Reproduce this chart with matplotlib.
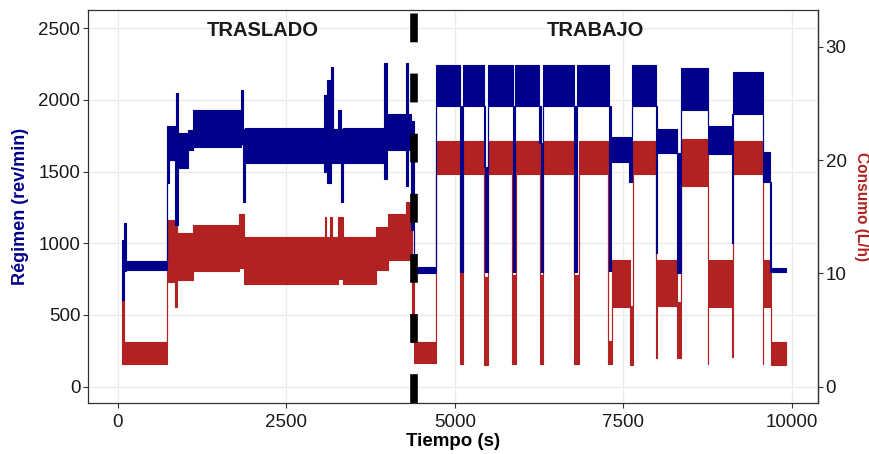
import matplotlib
matplotlib.use('Agg')
import matplotlib.pyplot as plt
import numpy as np

plt.rcParams['font.family'] = ['Liberation Sans', 'DejaVu Sans']

# engine speed (rev/min): start of each stretch, min and max of the signal in it
rpm_start = [59, 90, 120, 731, 760, 840, 860, 890, 1040, 1112, 1820, 1860, 1880,
             3063, 3100, 3160, 3185, 3262, 3310, 3336, 3953, 3985, 4274, 4300,
             4350, 4390, 4719, 5080, 5115, 5430, 5450, 5490, 5856, 5890, 6250,
             6275, 6300, 6765, 6815, 7280, 7320, 7585, 7630, 7985, 8000, 8290,
             8350, 8747, 9110, 9130, 9563, 9680, 9695]
rpm_lo = [604, 810, 812, 1420, 1580, 1128, 1128, 1525, 1650, 1674, 1690, 1290, 1558,
          1500, 1420, 1560, 1560, 1560, 1290, 1558, 1450, 1650, 1400, 1650,
          1093, 795, 1960, 800, 1960, 1530, 800, 1960, 800, 1960, 1700,
          800, 1960, 800, 1960, 810, 1565, 1430, 1960, 930, 1630, 795,
          1930, 1620, 1002, 1900, 1430, 802, 802]
rpm_hi = [1023, 1139, 875, 1820, 1815, 1700, 2046, 1770, 1790, 1930, 2069, 1800, 1802,
          2034, 2138, 2231, 1800, 1930, 1800, 1802, 2255, 1900, 2255, 1900,
          1850, 835, 2245, 1960, 2245, 1960, 1530, 2245, 1960, 2245, 1960,
          1700, 2245, 1960, 2245, 1960, 1740, 1740, 2240, 1960, 1800, 1630,
          2220, 1820, 1900, 2195, 1640, 1430, 830]
rpm_end = 9908

# fuel consumption (L/h): same layout
fuel_start = [59, 95, 731, 840, 870, 1112, 1803, 1877, 3070, 3090, 3150, 3175,
              3262, 3340, 3830, 4003, 4274, 4360, 4398, 4719, 5080, 5115, 5430,
              5490, 5845, 5900, 6255, 6310, 6765, 6840, 7275, 7324, 7600, 7635,
              7985, 8000, 8290, 8350, 8747, 8760, 9110, 9130, 9563, 9575, 9686]
fuel_lo = [2.0, 2.0, 9.2, 7.06, 9.4, 10.2, 10.5, 9.1, 9.1, 9.1, 9.1, 9.1,
           9.5, 9.1, 10.3, 11.2, 11.2, 3.9, 2.06, 18.8, 2.0, 18.8, 1.9,
           18.8, 2.0, 18.8, 2.0, 18.8, 2.0, 18.8, 2.0, 7.06, 1.9, 18.8,
           2.5, 7.1, 2.5, 17.7, 2.0, 7.06, 2.6, 18.8, 2.0, 7.06, 1.9]
fuel_hi = [8.1, 3.9, 14.7, 14.2, 13.6, 14.3, 15.2, 13.2, 15.0, 13.2, 15.0, 13.2,
           15.0, 13.2, 14.1, 15.2, 16.3, 11.2, 3.97, 21.7, 10.0, 21.7, 9.7,
           21.7, 9.9, 21.7, 9.9, 21.7, 9.9, 21.7, 4.0, 11.2, 7.1, 21.7,
           11.2, 11.2, 7.5, 21.9, 11.2, 11.2, 11.2, 21.7, 11.2, 11.2, 3.97]
fuel_end = 9908

phase_split = 4385
phase_names = ['TRASLADO', 'TRABAJO']
phase_x = [2150, 7085]

FACTOR = 79.0  # rev/min per L/h on the secondary axis
BLUE = '#00008B'
RED = '#B22222'


def steps(start, lo, hi, end):
    t = np.append(start, end)
    lo = np.append(lo, lo[-1])
    hi = np.append(hi, hi[-1])
    return t, lo, hi


fig = plt.figure(figsize=(8.7, 4.54), dpi=100)
ax = fig.add_axes([0.1011, 0.1117, 0.8391, 0.8663])

# consumption first, engine speed drawn over it
t, lo, hi = steps(fuel_start, fuel_lo, fuel_hi, fuel_end)
ax.fill_between(t, lo * FACTOR, hi * FACTOR, step='post', facecolor=RED,
                edgecolor=RED, linewidth=0.8, zorder=2)
t, lo, hi = steps(rpm_start, rpm_lo, rpm_hi, rpm_end)
ax.fill_between(t, lo, hi, step='post', facecolor=BLUE,
                edgecolor=BLUE, linewidth=0.8, zorder=3)

# boundary between the two phases
ax.axvline(phase_split, color='black', linewidth=5.5,
           linestyle=(0, (3.77, 4.1)), zorder=4)
for name, x in zip(phase_names, phase_x):
    ax.text(x, 2485, name, ha='center', va='center', fontsize=14.5,
            fontweight='bold', color='#1a1a1a', zorder=5)

ax.set_xlim(-445, 10386)
ax.set_ylim(-116, 2627)
ax.set_xticks([0, 2500, 5000, 7500, 10000])
ax.set_yticks([0, 500, 1000, 1500, 2000, 2500])
ax.grid(color='#EBEBEB', linewidth=1.0)
ax.set_axisbelow(True)

sec = ax.secondary_yaxis('right', functions=(lambda y: y / FACTOR,
                                              lambda y: y * FACTOR))
sec.set_yticks([0, 10, 20, 30])

for a in (ax, sec):
    for s in a.spines.values():
        s.set_color('#333333')
        s.set_linewidth(0.9)
    a.tick_params(direction='out', length=3.5, width=0.8, color='#333333',
                  labelsize=13.5, labelcolor='#1a1a1a', pad=2)
ax.tick_params(axis='x', pad=4)

ax.set_xlabel('Tiempo (s)', fontsize=13.5, fontweight='bold', labelpad=2)
ax.set_ylabel('Régimen (rev/min)', fontsize=13, fontweight='bold',
              color=BLUE, labelpad=7)
sec.set_ylabel('Consumo (L/h)', fontsize=11.2, fontweight='bold', color=RED,
               rotation=270, va='bottom', labelpad=5)

fig.savefig('out.png', dpi=100)
